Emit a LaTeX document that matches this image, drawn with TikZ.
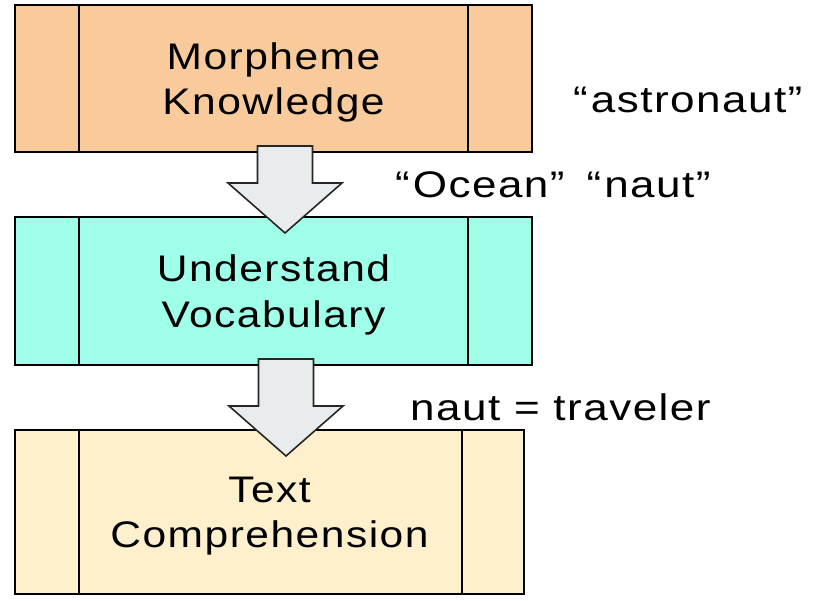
\documentclass[tikz,border=0pt]{standalone}
\usepackage{fontspec}
\setmainfont{Liberation Sans}[FakeStretch=1.15, LetterSpace=4]
\newfontfamily\notefont{Liberation Sans}[FakeStretch=1.19, LetterSpace=4]
\usetikzlibrary{calc}

\definecolor{peach}{RGB}{249,202,156}
\definecolor{aqua}{RGB}{160,255,232}
\definecolor{cream}{RGB}{255,240,205}
\definecolor{arrowgrey}{RGB}{232,236,236}

% block arrow from the top of its shaft (#1) down to its tip (#2)
\newcommand{\blockarrow}[2]{%
  \draw[flowarrow] let \p1=(#1), \p2=(#2) in
    (\x1-27.5pt,\y1) -- (\x1+27.5pt,\y1) -- (\x1+27.5pt,\y2+50pt)
    -- (\x1+57pt,\y2+50pt) -- (\x2,\y2) -- (\x1-57pt,\y2+50pt)
    -- (\x1-27.5pt,\y2+50pt) -- cycle;}

\tikzset{
  stage/.style={draw=black, line width=2pt, rectangle, inner sep=0pt},
  stagetext/.style={align=center, inner sep=0pt, yshift=-4pt,
    font=\fontsize{37}{45.5}\selectfont},
  divider/.style={draw=black, line width=1.5pt},
  flowarrow/.style={draw=black!85, line width=1.6pt, fill=arrowgrey, line join=miter},
  note/.style={anchor=base west, inner sep=0pt, font=\notefont\fontsize{37}{42}\selectfont}
}

\begin{document}
\begin{tikzpicture}[x=1pt, y=-1pt]
  \useasboundingbox (0,0) rectangle (818,601);

  % the three stages
  \node[stage, fill=peach, minimum width=517pt, minimum height=147pt,
    label={[stagetext]center:Morpheme\\Knowledge}] (mk) at (273.5,78.5) {};
  \node[stage, fill=aqua, minimum width=517pt, minimum height=148pt,
    label={[stagetext]center:Understand\\Vocabulary}] (vu) at (273.5,291) {};
  \node[stage, fill=cream, minimum width=509pt, minimum height=164pt,
    label={[stagetext]center:Text\\Comprehension}] (tc) at (269.5,512) {};

  % side panels of each stage
  \foreach \n/\r in {mk/65, vu/65, tc/63} {
    \draw[divider] ($(\n.north west)+(65,0)$) -- ($(\n.south west)+(65,0)$);
    \draw[divider] ($(\n.north east)+(-\r,0)$) -- ($(\n.south east)+(-\r,0)$);
  }

  % flow between stages
  \coordinate (a1top) at ($(mk.south)+(11.5,-7)$);
  \coordinate (a1tip) at ($(vu.north)+(11.5,17)$);
  \coordinate (a2top) at ($(vu.south)+(12.5,-7)$);
  \coordinate (a2tip) at ($(tc.north)+(16.5,27)$);
  \blockarrow{a1top}{a1tip}
  \blockarrow{a2top}{a2tip}

  % example annotations
  \node[note] (ex1) at (573,113) {“\hspace{3pt}astronaut”};
  \node[note] (ex2) at (395,198) {“\hspace{3pt}Ocean”\hspace{22pt}“\hspace{3pt}naut”};
  \node[note] (ex3) at (410,420) {naut = traveler};
\end{tikzpicture}
\end{document}
